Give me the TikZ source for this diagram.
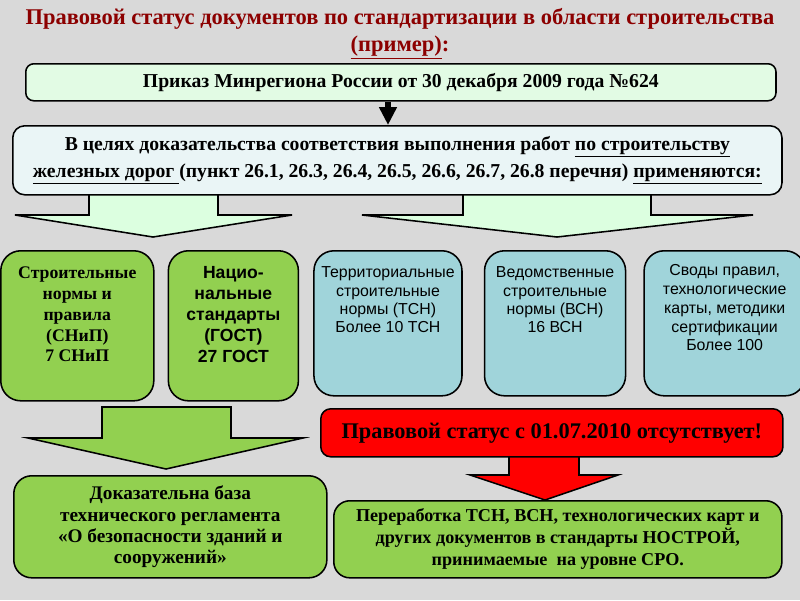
\documentclass[tikz,border=0pt]{standalone}
\usepackage{fontspec}
\setmainfont{Liberation Serif}
\setsansfont{Liberation Sans}
\usepackage{tikz}
\usetikzlibrary{positioning, arrows.meta}
\usepackage{xcolor}

\definecolor{slidegray}{RGB}{217,217,217}
\definecolor{titlered}{RGB}{140,0,0}
\definecolor{ordergreen}{RGB}{226,251,228}
\definecolor{aimscyan}{RGB}{234,245,246}
\definecolor{arrowgreen}{RGB}{220,255,224}
\definecolor{docgreen}{RGB}{146,208,80}
\definecolor{docblue}{RGB}{160,212,218}
\definecolor{statusred}{RGB}{255,0,0}

\begin{document}
\begin{tikzpicture}[x=0.025cm, y=-0.025cm, line width=1.1pt,
		wide/.style={rectangle, draw, anchor=north west, align=center, font=\bfseries},
		rowbox/.style={rectangle, draw, rounded corners=0.5cm, inner sep=0pt, anchor=north west},
		bigarrow/.style={draw, line join=miter}]
		\fill[slidegray] (0,0) rectangle (800,600);
		\useasboundingbox (0,0) rectangle (800,600);
		
		% block arrows, drawn under the boxes
		\draw[bigarrow, fill=arrowgreen] (89,194) -- (89,215) -- (15,215) -- (153,237) -- (292,215) -- (218,215) -- (218,194);
		\draw[bigarrow, fill=arrowgreen] (463,194) -- (463,215) -- (362,215) -- (557,237) -- (753,215) -- (651,215) -- (651,194);
		\draw[bigarrow, fill=docgreen] (102,407) -- (231,407) -- (231,438) -- (303,438) -- (166,469) -- (28,438) -- (102,438) -- cycle;
		\draw[bigarrow, fill=statusred] (509,456) -- (509,475) -- (470,475) -- (545,500) -- (618,475) -- (579,475) -- (579,456);
		
		\node[titlered, align=center, font=\bfseries\fontsize{16}{19}\selectfont] (title) at (400,34)
			{Правовой статус документов по стандартизации в области строительства\\\underline{(пример)}:};
		
		\node[wide, rounded corners=0.2cm, fill=ordergreen, minimum width=18.75cm, minimum height=0.925cm,
			font=\bfseries\fontsize{14}{17}\selectfont] (order) at (25,63)
			{Приказ Минрегиона России от 30 декабря 2009 года №624};
		
		\node[wide, rounded corners=0.3cm, fill=aimscyan, minimum width=19.225cm, minimum height=1.725cm,
			font=\bfseries\fontsize{14}{19}\selectfont] (aims) at (12,125)
			{В целях доказательства соответствия выполнения работ \underline{по строительству}\\
			\underline{железных дорог\ }(пункт 26.1, 26.3, 26.4, 26.5, 26.6, 26.7, 26.8 перечня) \underline{применяются:}};
		
		\coordinate (order-arrow) at (388,0);
		\draw[-{Triangle[width=0.425cm, length=0.45cm]}, line width=0.15cm] (order.south -| order-arrow) -- (aims.north -| order-arrow);
		
		% the five kinds of documents
		\node[rowbox, fill=docgreen] (snip) at (0,250)
			{\parbox[c][3.75cm][t]{3.825cm}{\vspace*{11.5pt}\centering\bfseries\fontsize{12.6}{14.8}\selectfont
			Строительные\\нормы и\\правила\\(СНиП)\\7 СНиП}};
		\node[rowbox, fill=docgreen, below right=0cm and 0.325cm of snip.north east] (gost)
			{\parbox[c][3.75cm][t]{3.25cm}{\vspace*{11pt}\centering\sffamily\bfseries\fontsize{12.5}{14.9}\selectfont
			Нацио-\\нальные\\стандарты\\(ГОСТ)\\27 ГОСТ}};
		\node[rowbox, fill=docblue, below right=0cm and 0.35cm of gost.north east] (tsn)
			{\parbox[c][3.625cm][t]{3.7cm}{\vspace*{11.5pt}\centering\sffamily\fontsize{11.3}{13}\selectfont
			Территориальные\\строительные\\нормы (ТСН)\\Более 10 ТСН}};
		\node[rowbox, fill=docblue, below right=0cm and 0.525cm of tsn.north east] (vsn)
			{\parbox[c][3.625cm][t]{3.525cm}{\vspace*{11.5pt}\centering\sffamily\fontsize{11.3}{13}\selectfont
			Ведомственные\\строительные\\нормы (ВСН)\\16 ВСН}};
		\node[rowbox, fill=docblue, below right=0cm and 0.425cm of vsn.north east] (sp)
			{\parbox[c][3.625cm][t]{4.025cm}{\vspace*{10pt}\centering\sffamily\fontsize{11.3}{13.3}\selectfont
			Своды правил,\\технологические\\карты, методики\\сертификации\\Более 100}};
		
		\node[wide, rounded corners=0.25cm, fill=statusred, minimum width=11.55cm, minimum height=1.2cm,
			font=\bfseries\fontsize{15.9}{18}\selectfont] (no-status) at (320,408)
			{Правовой статус с 01.07.2010 отсутствует!};
		
		\node[wide, rounded corners=0.45cm, fill=docgreen, minimum width=7.825cm, minimum height=2.55cm,
			font=\bfseries\fontsize{13.7}{15}\selectfont] (evidence) at (13,475)
			{Доказательна база\\технического регламента\\«О безопасности зданий и\\сооружений»};
		
		\node[wide, rounded corners=0.4cm, fill=docgreen, minimum width=11.2cm, minimum height=1.925cm,
			font=\bfseries\fontsize{12.9}{15.6}\selectfont] (rework) at (333,500)
			{Переработка ТСН, ВСН, технологических карт и\\других документов в стандарты НОСТРОЙ,\\принимаемые\ \ на уровне СРО.};
		
	\end{tikzpicture}
\end{document}
